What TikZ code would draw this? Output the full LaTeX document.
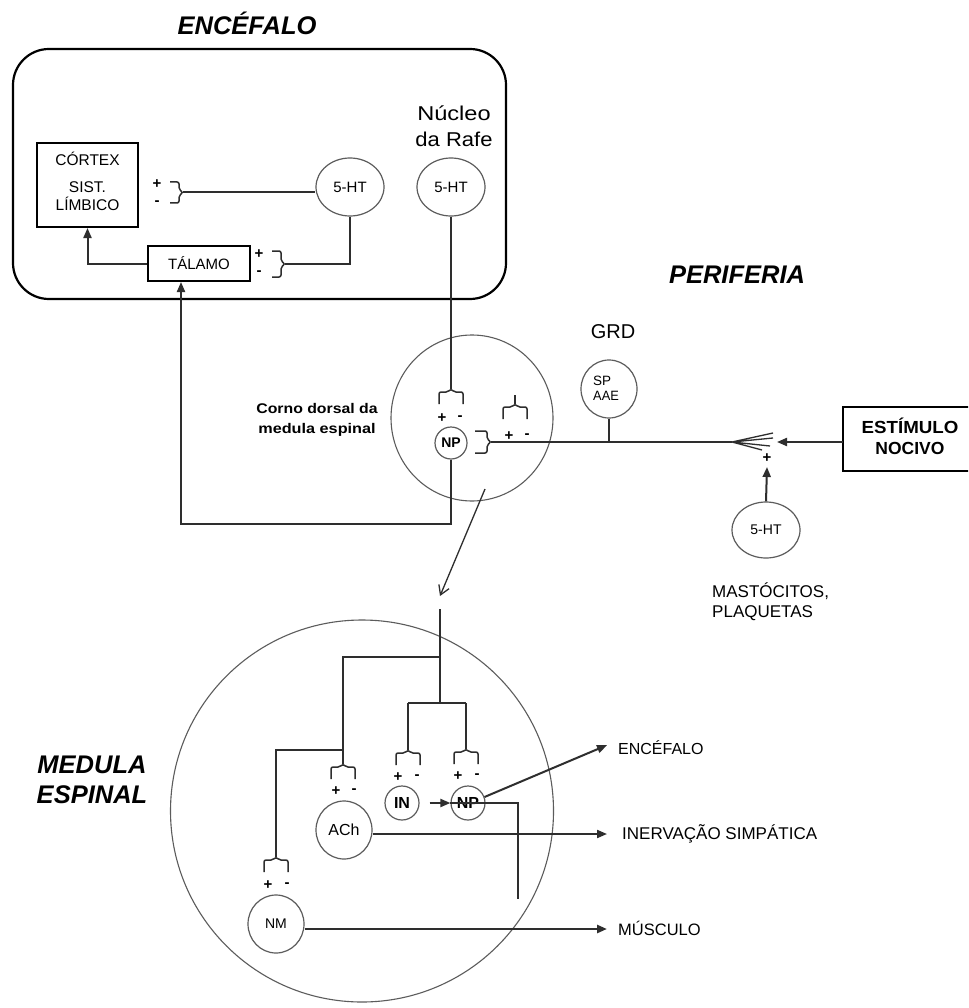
\documentclass[tikz,border=0pt]{standalone}
\usepackage{fontspec}
\setmainfont{Liberation Sans}
\usepackage{graphicx}
\usetikzlibrary{shapes.geometric,arrows.meta}
\definecolor{ln}{gray}{0.18}
\definecolor{cl}{gray}{0.36}
\newcommand\fs[1]{\fontsize{#1}{#1}\selectfont}
\newcommand\sx[2]{\scalebox{#1}[1]{#2}}
% bracket opening downwards, input from above: xl, xr, ytop, name of nib
\newcommand\topbr[4]{%
  \draw[br] ({#1},{#3+12}) -- ({#1},{#3}) -- ({(#1+#2)/2-3},{#3}) -- ({(#1+#2)/2},{#3-3}) coordinate (#4) -- ({(#1+#2)/2+3},{#3}) -- ({#2},{#3}) -- ({#2},{#3+12});}
% bracket opening leftwards, output to the right: xl, xr, ytop, ybottom, name of nib
\newcommand\sidebr[5]{%
  \draw[br] ({#1},{#3}) -- ({#2},{#3}) -- ({#2},{(#3+#4)/2-3}) -- ({#2+4},{(#3+#4)/2}) coordinate (#5) -- ({#2},{(#3+#4)/2+3}) -- ({#2},{#4}) -- ({#1},{#4});}
\begin{document}
\begin{tikzpicture}[x=1pt,y=-1pt,
  br/.style={draw=ln, line width=1.5pt, rounded corners=2pt},
  con/.style={draw=ln, line width=2pt},
  conb/.style={draw=ln, line width=2.6pt},
  cell/.style={ellipse, draw=cl, line width=1.2pt, inner sep=0pt},
  box/.style={rectangle, draw=black, line width=2pt, inner sep=0pt},
  tip/.style={-{Triangle[length=10pt,width=8pt]}},
  title/.style={font=\fs{25.5}\bfseries\itshape, inner sep=0pt},
  lbl/.style={inner sep=0pt},
  pm/.style={font=\fs{15}\bfseries, inner sep=0pt}]
\clip (0,0) rectangle (968,1008);
\fill[white] (0,0) rectangle (968,1008);

% ---------- titles ----------
\node[title, anchor=base] (tEnc) at (247,35) {ENCÉFALO};
\node[title, anchor=base] (tPer) at (737,283) {PERIFERIA};
\node[title, anchor=base] (tMed1) at (92,773) {MEDULA};
\node[title, anchor=base] (tMed2) at (92,803) {ESPINAL};

% ---------- brain box ----------
\node[draw=black, line width=2.2pt, rounded corners=36pt, minimum width=493pt, minimum height=250pt, inner sep=0pt] (brain) at (259.5,174) {};
\node[box, minimum width=101pt, minimum height=84pt] (cortex) at (87.5,185) {};
\node[lbl, anchor=base, font=\fs{15.5}] (cx1) at (87.5,166) {CÓRTEX};
\node[lbl, anchor=base, font=\fs{15.5}] (cx2) at (87.5,193) {SIST.};
\node[lbl, anchor=base, font=\fs{15.5}] (cx3) at (87.5,211) {LÍMBICO};
\node[box, minimum width=102pt, minimum height=35pt, font=\fs{15}] (tal) at (199,263.5) {TÁLAMO\hspace{12pt}};
\node[cell, minimum width=68pt, minimum height=58pt, font=\fs{15}] (ht1) at (350,187) {5-HT};
\node[cell, minimum width=68pt, minimum height=58pt, font=\fs{15}] (ht2) at (451,187) {5-HT};
\node[lbl, anchor=base, font=\fs{20}] (nuc1) at (454,121) {\sx{1.18}{Núcleo}};
\node[lbl, anchor=base, font=\fs{20}] (nuc2) at (454,147) {\sx{1.1}{da Rafe}};

\sidebr{170}{179}{182}{203}{b1}
\node[pm] (p1) at (157,184) {+};
\node[pm] (m1) at (157,203) {-};
\sidebr{272}{281}{251}{277}{b2}
\node[pm] (p2) at (259,254) {+};
\node[pm] (m2) at (259,273) {-};

\draw[con] (b1) -- (b1 -| ht1.west);
\draw[con] (ht1.south) |- (b2);
\draw[con, tip] (tal.west) -| (cortex.south);

% ---------- dorsal horn ----------
\node[ellipse, draw=cl, line width=1.1pt, minimum width=162pt, minimum height=166pt, inner sep=0pt] (dh) at (472,418) {};
\node[cell, minimum width=32pt, minimum height=32pt, font=\fs{14}\bfseries] (np1) at (451,443) {NP};
\node[lbl, anchor=base, font=\fs{14}\bfseries] (cd1) at (317,413) {\sx{1.13}{Corno dorsal da}};
\node[lbl, anchor=base, font=\fs{14}\bfseries] (cd2) at (317,433) {\sx{1.16}{medula espinal}};
\topbr{439}{463}{392}{b3}
\node[pm] (p3) at (442,418) {+};
\node[pm] (m3) at (460,418) {-};
\sidebr{475}{487}{431}{453}{b4}
\topbr{503}{527}{407}{b5}
\node[pm] (p5) at (509,436) {+};
\node[pm] (m5) at (527,436) {-};
\coordinate (b5in) at (515,395);
\draw[con] (b5in) -- (b5);

\draw[con] (ht2.south) -- (b3);
\draw[con, tip] (np1.south) -- (451,524) -| ([xshift=34pt]tal.south west);

% ---------- periphery ----------
\coordinate (fan) at (732,442);
\draw[con] (b4) -- (fan);
\node[cell, minimum width=56pt, minimum height=58pt] (grd) at (609,389) {};
\node[lbl, anchor=base west, font=\fs{13.5}] (sp) at (593,385) {SP};
\node[lbl, anchor=base west, font=\fs{13.5}] (aae) at (593,400) {\sx{0.95}{AAE}};
\node[lbl, anchor=base, font=\fs{20}] (grdl) at (613,338) {GRD};
\draw[con] (grd.south) -- (grd.south |- fan);
\draw[ln, line width=1.3pt] (fan) -- (773,433) (fan) -- (773,438) (fan) -- (770,446) (fan) -- (762,450);

\draw[box] (975,407) -- (843,407) -- (843,471) -- (975,471);
\node[lbl, minimum width=132pt, minimum height=64pt, anchor=west] (stim) at (843,439) {};
\node[lbl, anchor=base, font=\fs{17.5}\bfseries] (st1) at (910,433) {\sx{1.07}{ESTÍMULO}};
\node[lbl, anchor=base, font=\fs{17.5}\bfseries] (st2) at (910,454) {NOCIVO};
\draw[con, tip] (stim.west |- fan) -- (777,442);

\node[cell, minimum width=68pt, minimum height=56pt, font=\fs{14}] (ht3) at (766,530) {5-HT};
\node[pm] (p6) at (767,458) {+};
\draw[con, tip] (ht3.north) -- (767,467);
\node[lbl, anchor=base west, font=\fs{17}] (mast1) at (712,597) {MASTÓCITOS,};
\node[lbl, anchor=base west, font=\fs{17}] (mast2) at (712,617) {PLAQUETAS};

% ---------- spinal cord ----------
\coordinate (dhout) at (485,489);
\coordinate (spin) at (440,596);
\draw[ln, line width=1.3pt, -{Straight Barb[length=9pt,width=11pt,line width=1.3pt]}] (dhout) -- (spin);

\node[ellipse, draw=cl, line width=1.1pt, minimum width=383pt, minimum height=382pt, inner sep=0pt] (sc) at (362,811) {};
\node[cell, minimum width=34pt, minimum height=34pt, font=\fs{16}\bfseries] (in) at (402,803) {IN};
\node[cell, minimum width=34pt, minimum height=34pt, font=\fs{16}\bfseries] (np2) at (468,803) {NP};
\node[cell, minimum width=56pt, minimum height=58pt, font=\fs{16}] (ach) at (344,830) {ACh};
\node[cell, minimum width=56pt, minimum height=58pt, font=\fs{14}] (nm) at (276,924) {NM};

\topbr{396}{420}{753}{b6}
\node[pm] (p7) at (398,777) {+};
\node[pm] (m7) at (417,777) {-};
\topbr{454}{478}{752}{b7}
\node[pm] (p8) at (458,776) {+};
\node[pm] (m8) at (477,776) {-};
\topbr{331}{355}{767}{b8}
\node[pm] (p9) at (336,791) {+};
\node[pm] (m9) at (354,791) {-};
\topbr{264}{288}{860}{b9}
\node[pm] (p10) at (268,885) {+};
\node[pm] (m10) at (287,885) {-};

\coordinate (trtop) at (440,609);
\coordinate (jA) at (440,657);
\coordinate (trj) at (440,703);
\coordinate (jIN) at (408,703);
\coordinate (jNP) at (466,703);
\coordinate (jM) at (343,750);
\draw[con] (trtop) -- (trj);
\draw[con] (jIN) -- (jNP);
\draw[con] (jIN) -- (b6);
\draw[con] (jNP) -- (b7);
\draw[con] (jA) -| (b8);
\draw[con] (jM) -| (b9);

\draw[con, tip] ([xshift=10pt]in.east) -- (np2.west);
\coordinate (npc) at (518,803);
\coordinate (npend) at (518,899);
\draw[con] (np2.west) -- (npc) -- (npend);

\node[lbl, anchor=base west, font=\fs{16}] (encS) at (618,754) {ENCÉFALO};
\node[lbl, anchor=base west, font=\fs{17}] (inerv) at (622,839) {INERVAÇÃO SIMPÁTICA};
\node[lbl, anchor=base west, font=\fs{16.5}] (musc) at (618,935) {MÚSCULO};

\draw[con, tip] (np2.20) -- ([xshift=-11pt,yshift=2pt]encS.west);
\draw[con, tip, shorten >=15pt] ([yshift=-4pt]ach.east) -- ([yshift=-4pt]ach.east -| inerv.west);
\draw[conb, tip, shorten >=11pt] ([yshift=-5pt]nm.east) -- ([yshift=-5pt]nm.east -| musc.west);
\end{tikzpicture}
\end{document}
